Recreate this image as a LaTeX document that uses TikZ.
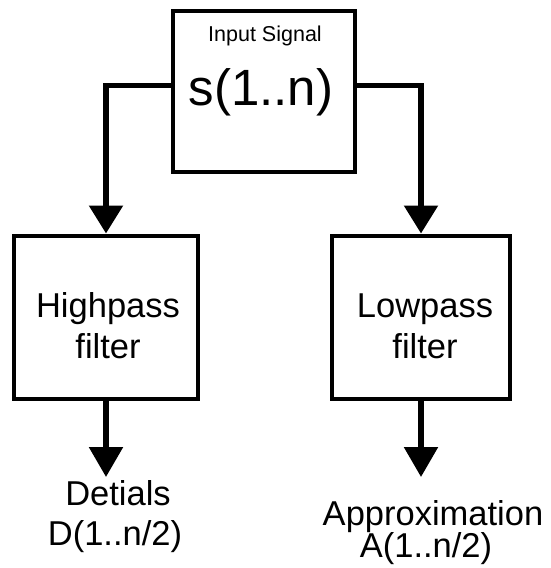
\documentclass[tikz,border=0pt]{standalone}
\usepackage{fontspec}
\setmainfont{Liberation Sans}
\usetikzlibrary{arrows.meta}
\tikzset{
  blk/.style={draw, line width=4pt, minimum width=#1, minimum height=163pt, inner sep=0pt},
  wire/.style={line width=5.5pt, -{Triangle[width=33pt,length=28pt]}},
  lbl/.style={inner sep=0pt, anchor=base, font=\fontsize{34.5}{40}\selectfont},
}
\begin{document}
\begin{tikzpicture}[x=1pt,y=-1pt]
\useasboundingbox (0,0) rectangle (550,568);
% blocks
\node[blk=182pt, minimum height=161pt] (sig) at (264,91.5) {};
\node[blk=184pt] (hp) at (106,317) {};
\node[blk=178pt] (lp) at (421,317) {};
% labels
\node[lbl, font=\fontsize{21.5}{26}\selectfont] (insig) at (265,41) {Input Signal};
\node[lbl, font=\fontsize{51}{60}\selectfont] (sn) at (261,105) {s(1..n)};
\node[lbl] (hp1) at (108,317.6) {Highpass};
\node[lbl] (hp2) at (108,358.4) {filter};
\node[lbl] (lp1) at (425,317.6) {Lowpass};
\node[lbl] (lp2) at (425,358.4) {filter};
\node[lbl] (det1) at (118,505) {Detials};
\node[lbl] (det2) at (115,545) {D(1..n/2)};
\node[lbl] (app1) at (433,525) {Approximation};
\node[lbl] (app2) at (426,557) {A(1..n/2)};
% wires
\coordinate (dtip) at (106,477);
\coordinate (atip) at (421,477);
\draw[wire] ([yshift=6pt]sig.west) -| (hp.north);
\draw[wire] ([yshift=6pt]sig.east) -| (lp.north);
\draw[wire, -{Triangle[width=33pt,length=30pt]}] (hp.south) -- (dtip);
\draw[wire, -{Triangle[width=33pt,length=30pt]}] (lp.south) -- (atip);
\end{tikzpicture}
\end{document}
